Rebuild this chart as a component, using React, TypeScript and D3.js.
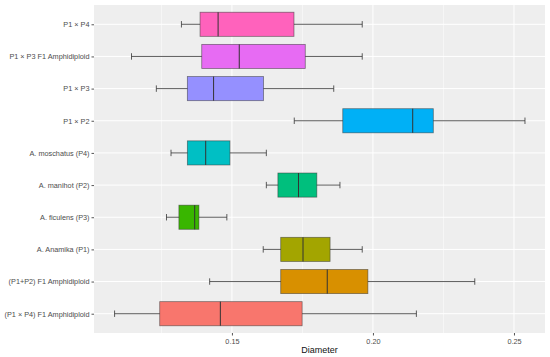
import React, { useEffect, useRef } from 'react';
import * as d3 from 'd3';

// categories from bottom to top
const groups = [
    '(P1 × P4) F1 Amphidiploid',
    '(P1+P2) F1 Amphidiploid',
    'A. Anamika (P1)',
    'A. ficulens (P3)',
    'A. manihot (P2)',
    'A. moschatus (P4)',
    'P1 × P2',
    'P1 × P3',
    'P1 × P3 F1 Amphidiploid',
    'P1 × P4',
];
const whiskerLow = [0.1084, 0.1421, 0.1611, 0.1268, 0.1622, 0.1284, 0.1721, 0.1232, 0.1144, 0.1321];
const q1 = [0.1244, 0.1673, 0.1673, 0.1312, 0.1663, 0.1342, 0.1893, 0.1342, 0.1393, 0.1387];
const median = [0.1459, 0.1838, 0.1752, 0.1368, 0.1736, 0.1407, 0.2141, 0.1435, 0.1526, 0.1451];
const q3 = [0.1749, 0.1982, 0.1848, 0.1383, 0.1801, 0.1493, 0.2214, 0.1612, 0.176, 0.172];
const whiskerHigh = [0.2154, 0.2361, 0.1962, 0.1482, 0.1883, 0.1622, 0.2539, 0.1861, 0.1962, 0.1962];
const fills = ['#F8766D', '#D89000', '#A3A500', '#39B600', '#00BF7D', '#00BFC4', '#00B0F6', '#9590FF', '#E76BF3', '#FF62BC'];
const xTicks = [0.15, 0.2, 0.25];
const xMinor = [0.125, 0.175, 0.225];

const App: React.FC = () => {
    const ref = useRef<SVGSVGElement | null>(null);

    useEffect(() => {
        const svg = d3.select(ref.current);
        svg.selectAll('*').remove();

        const left = 94, right = 545, top = 5, bottom = 333;
        const font = 'Liberation Sans, Arial, sans-serif';

        const x = d3.scaleLinear().domain([0.1011, 0.261]).range([left, right]);
        const y = d3.scalePoint<string>().domain(groups).range([bottom, top]).padding(0.6);
        const boxH = y.step() * 0.75;
        const capH = y.step() * 0.2;

        svg.append('rect')
            .attr('x', left).attr('y', top)
            .attr('width', right - left).attr('height', bottom - top)
            .attr('fill', '#EEEEEE');

        // grid
        svg.append('g').selectAll('line').data(xMinor).join('line')
            .attr('x1', d => x(d)).attr('x2', d => x(d))
            .attr('y1', top).attr('y2', bottom)
            .attr('stroke', '#fff').attr('stroke-width', 0.5);
        svg.append('g').selectAll('line').data(xTicks).join('line')
            .attr('x1', d => x(d)).attr('x2', d => x(d))
            .attr('y1', top).attr('y2', bottom)
            .attr('stroke', '#fff').attr('stroke-width', 1);
        svg.append('g').selectAll('line').data(groups).join('line')
            .attr('x1', left).attr('x2', right)
            .attr('y1', d => y(d)!).attr('y2', d => y(d)!)
            .attr('stroke', '#fff').attr('stroke-width', 1);

        const g = svg.append('g').selectAll('g').data(groups).join('g');
        const stroke = '#333';

        // whiskers
        g.append('line')
            .attr('x1', (d, i) => x(whiskerLow[i])).attr('x2', (d, i) => x(whiskerHigh[i]))
            .attr('y1', d => y(d)!).attr('y2', d => y(d)!)
            .attr('stroke', stroke).attr('stroke-width', 0.8);
        [whiskerLow, whiskerHigh].forEach(arr => {
            g.append('line')
                .attr('x1', (d, i) => x(arr[i])).attr('x2', (d, i) => x(arr[i]))
                .attr('y1', d => y(d)! - capH / 2).attr('y2', d => y(d)! + capH / 2)
                .attr('stroke', stroke).attr('stroke-width', 0.8);
        });

        // boxes
        g.append('rect')
            .attr('x', (d, i) => x(q1[i]))
            .attr('width', (d, i) => x(q3[i]) - x(q1[i]))
            .attr('y', d => y(d)! - boxH / 2)
            .attr('height', boxH)
            .attr('fill', (d, i) => fills[i])
            .attr('stroke', stroke).attr('stroke-opacity', 0.6).attr('stroke-width', 0.8);
        g.append('line')
            .attr('x1', (d, i) => x(median[i])).attr('x2', (d, i) => x(median[i]))
            .attr('y1', d => y(d)! - boxH / 2).attr('y2', d => y(d)! + boxH / 2)
            .attr('stroke', stroke).attr('stroke-width', 1);

        // y axis
        const ya = svg.append('g').attr('transform', `translate(${left},0)`)
            .call(d3.axisLeft(y).tickSize(2.5).tickPadding(2));
        ya.select('.domain').remove();
        ya.selectAll('line').attr('stroke', '#555');
        ya.selectAll('text').attr('fill', '#4D4D4D').attr('font-size', 7.3).attr('font-family', font);

        // x axis
        const xa = svg.append('g').attr('transform', `translate(0,${bottom})`)
            .call(d3.axisBottom(x).tickValues(xTicks).tickFormat(d3.format('.2f')).tickSize(2.5).tickPadding(3));
        xa.select('.domain').remove();
        xa.selectAll('line').attr('stroke', '#555');
        xa.selectAll('text').attr('fill', '#4D4D4D').attr('font-size', 7.3).attr('font-family', font);

        svg.append('text')
            .attr('x', (left + right) / 2).attr('y', 353)
            .attr('text-anchor', 'middle')
            .attr('font-size', 9).attr('font-family', font).attr('fill', '#111')
            .text('Diameter');
    }, []);

    return (
        <svg ref={ref} width={550} height={357}
            style={{ position: 'absolute', left: 0, top: 0, background: '#fff' }}></svg>
    );
};

export default App;
